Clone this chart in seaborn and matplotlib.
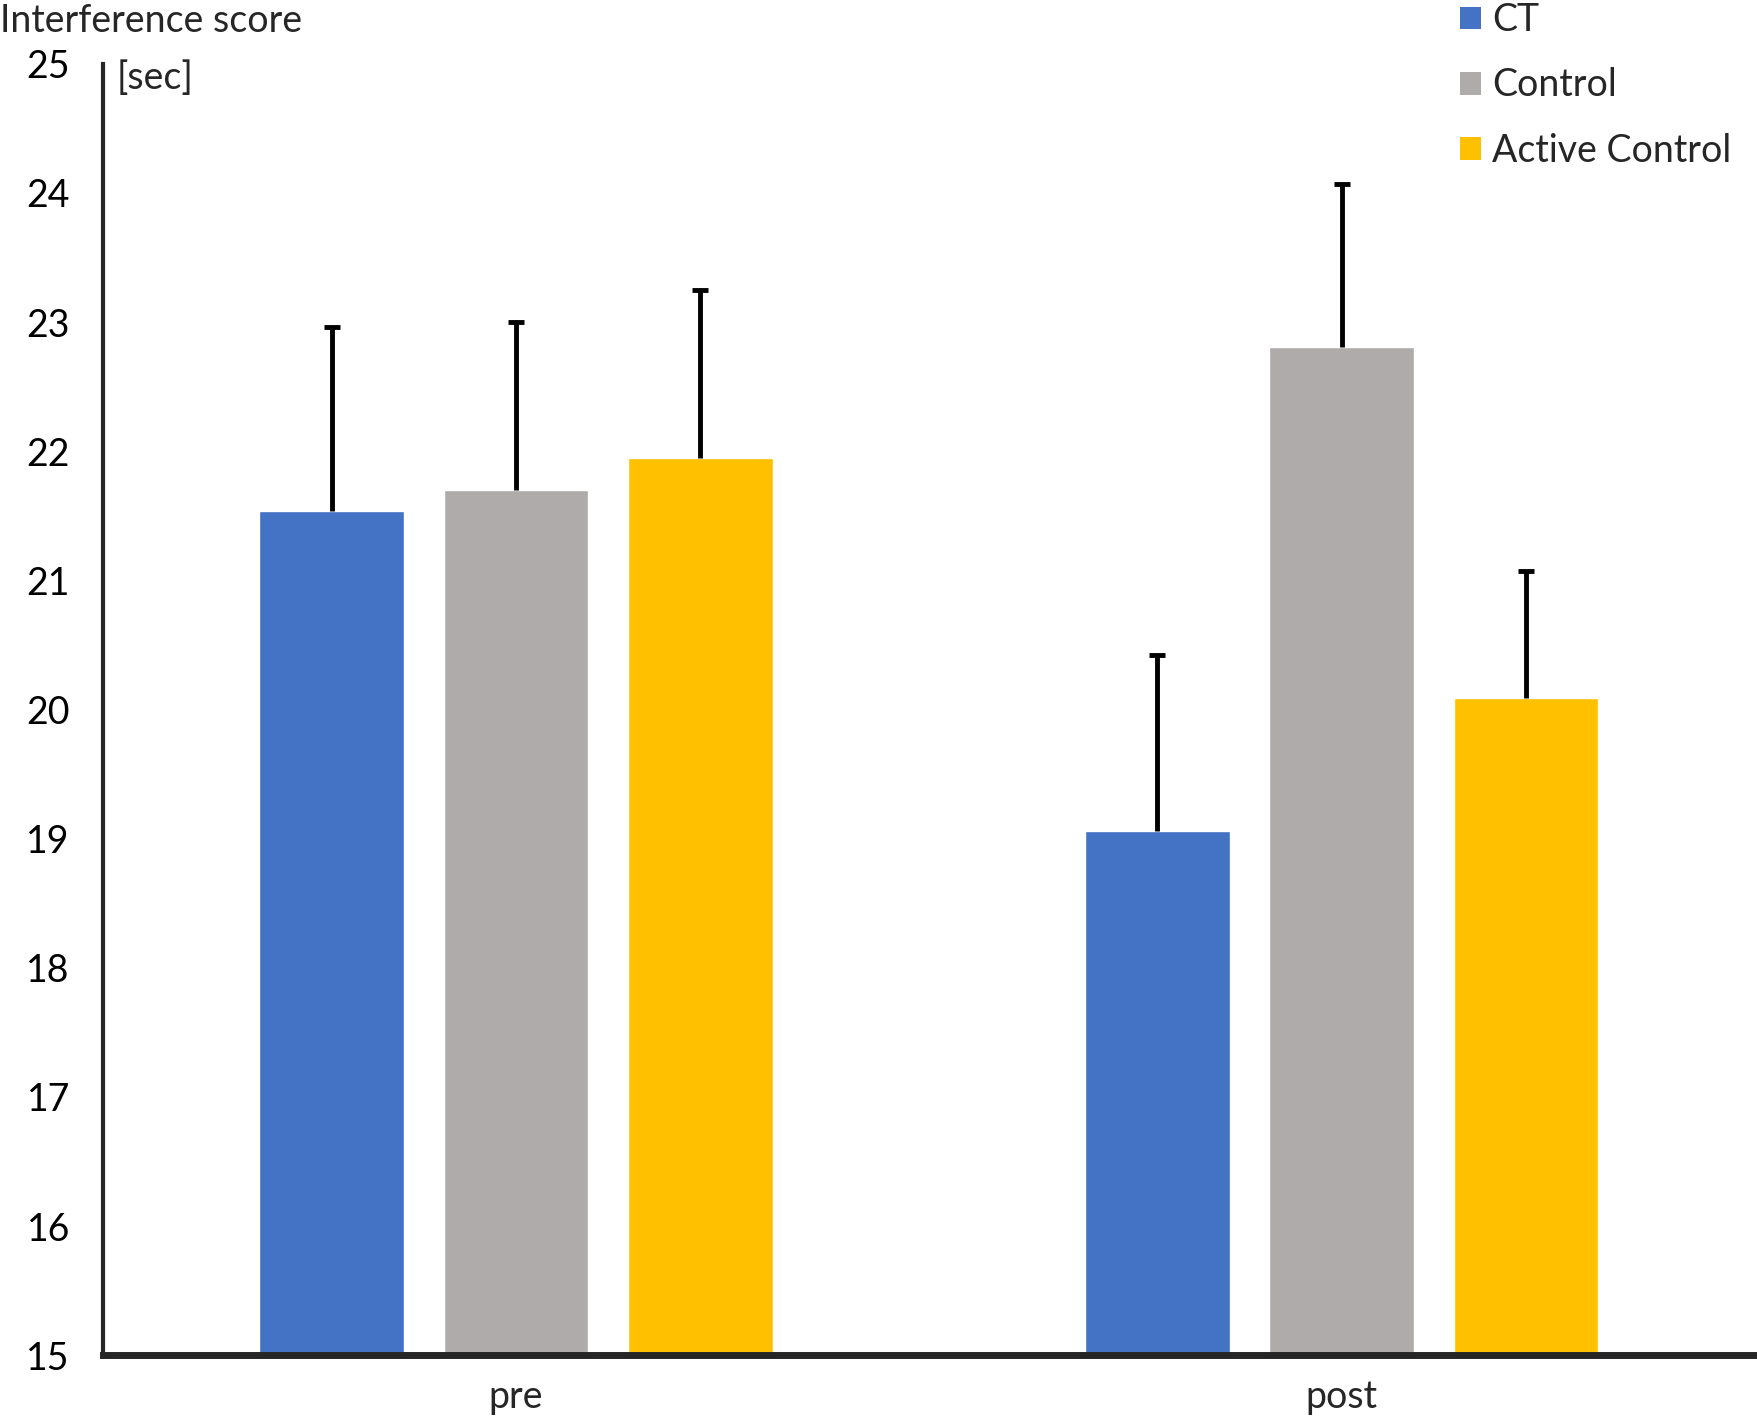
import numpy as np
import pandas as pd
import matplotlib
matplotlib.use("Agg")
import matplotlib.pyplot as plt
import seaborn as sns

# values
times = ["pre", "post"]
groups = ["CT", "Control", "Active Control"]
ct_mean = [21.54, 19.06]
control_mean = [21.70, 22.81]
active_mean = [21.95, 20.09]
ct_err = [1.42, 1.36]
control_err = [1.30, 1.26]
active_err = [1.30, 0.98]

colors = ["#4472C4", "#AFABAB", "#FFC000"]


def build_frame():
    rows = []
    for g, means, errs in zip(groups, [ct_mean, control_mean, active_mean],
                              [ct_err, control_err, active_err]):
        for t, m, e in zip(times, means, errs):
            rows.append({"time": t, "group": g, "score": m, "err": e})
    return pd.DataFrame(rows)


def main():
    df = build_frame()

    sns.set_style("white")
    plt.rcParams["font.family"] = ["Lato", "DejaVu Sans"]

    fig = plt.figure(figsize=(17.58, 14.19), dpi=100)
    ax = fig.add_axes([0.0587, 0.045, 0.9393, 0.91])

    sns.barplot(data=df, x="time", y="score", hue="group", order=times,
                hue_order=groups, palette=colors, width=0.67, gap=0.215,
                errorbar=None, saturation=1, ax=ax)

    # one-sided error bars, cap only at the top
    for g_idx, g in enumerate(groups):
        sub = df[df["group"] == g].set_index("time").loc[times]
        bars = ax.containers[g_idx]
        xs = [b.get_x() + b.get_width() / 2 for b in bars]
        eb = ax.errorbar(xs, sub["score"], yerr=[np.zeros(len(xs)), sub["err"]],
                         fmt="none", ecolor="black", elinewidth=3.5, capsize=6,
                         capthick=3.5)
        eb[1][0].set_visible(False)

    ax.set_ylim(15, 25)
    ax.set_xlim(-0.5, 1.5)
    ax.set_yticks(range(15, 26))
    ax.set_xlabel("")
    ax.set_ylabel("")

    sns.despine(ax=ax)
    ax.spines["left"].set_linewidth(3)
    ax.spines["bottom"].set_linewidth(5)
    ax.tick_params(axis="y", direction="out", length=8, width=3,
                   labelsize=27, pad=16, colors="black")
    ax.tick_params(axis="x", length=0, labelsize=27, pad=17)

    fig.text(0.0, 0.998, "Interference score", fontsize=27, ha="left", va="top")
    ax.text(0.008, 1.003, "[sec]", transform=ax.transAxes, fontsize=27,
            ha="left", va="top")

    leg = ax.legend(loc="upper left", bbox_to_anchor=(0.822, 1.009),
                    bbox_transform=fig.transFigure, frameon=False, fontsize=27,
                    handlelength=0.55, handleheight=0.55, handletextpad=0.3,
                    labelspacing=0.78, borderaxespad=0)
    for h in leg.legend_handles:
        h.set_edgecolor("none")

    fig.savefig("out.png", dpi=100)


if __name__ == "__main__":
    main()
